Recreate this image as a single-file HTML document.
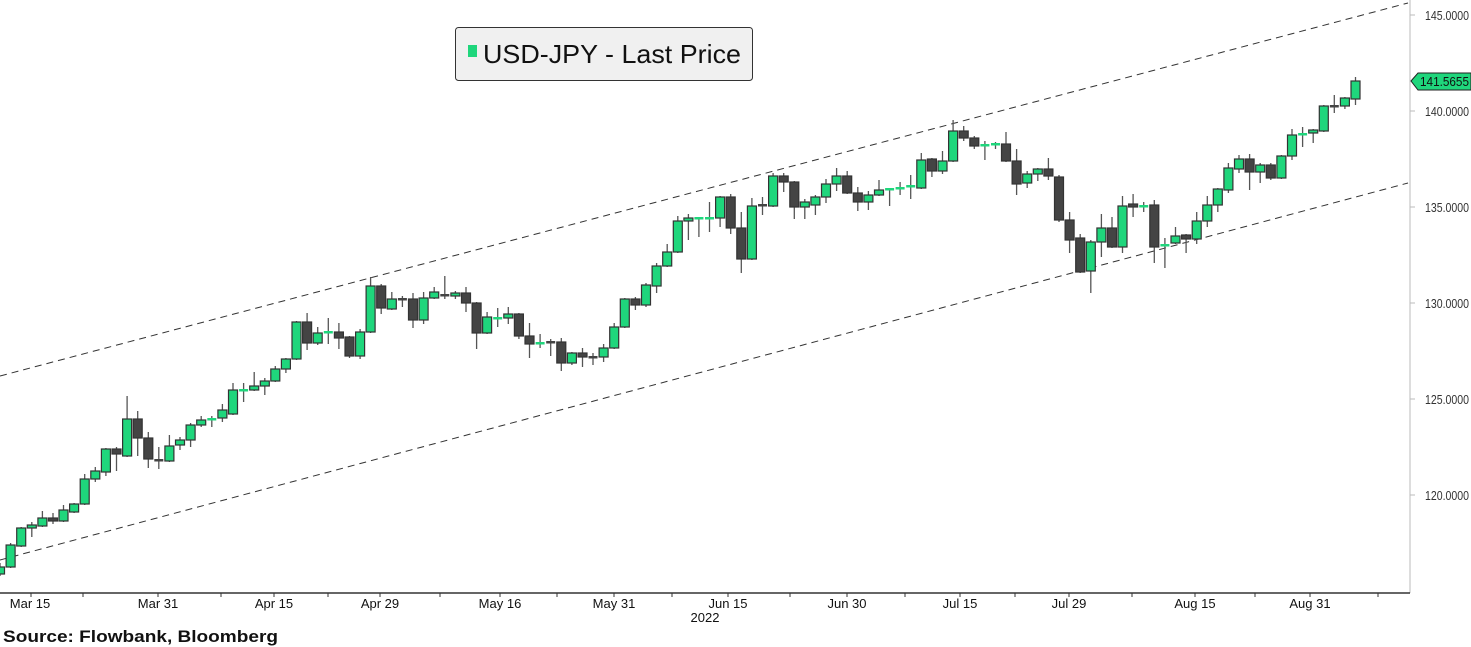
<!DOCTYPE html>
<html><head><meta charset="utf-8"><style>
html,body{margin:0;padding:0;background:#fff;}
svg{display:block;font-family:"Liberation Sans","DejaVu Sans",sans-serif;}
</style></head><body>
<svg id="s" width="1471" height="647" viewBox="0 0 1471 647" xmlns="http://www.w3.org/2000/svg">
<rect width="1471" height="647" fill="#fff"/>
<line x1="1410" y1="0" x2="1410" y2="593" stroke="#bbb" stroke-width="1"/>
<line x1="0" y1="593" x2="1410" y2="593" stroke="#333" stroke-width="1.5"/>
<line x1="0" y1="376" x2="1408" y2="3" stroke="#333" stroke-width="1" stroke-dasharray="7,5"/>
<line x1="0" y1="560" x2="1408" y2="183" stroke="#333" stroke-width="1" stroke-dasharray="7,5"/>
<g id="c"></g>
<g font-size="13" fill="#333">
<text x="1425" y="20" textLength="44" lengthAdjust="spacingAndGlyphs">145.0000</text>
<text x="1425" y="116" textLength="44" lengthAdjust="spacingAndGlyphs">140.0000</text>
<text x="1425" y="212" textLength="44" lengthAdjust="spacingAndGlyphs">135.0000</text>
<text x="1425" y="308" textLength="44" lengthAdjust="spacingAndGlyphs">130.0000</text>
<text x="1425" y="404" textLength="44" lengthAdjust="spacingAndGlyphs">125.0000</text>
<text x="1425" y="500" textLength="44" lengthAdjust="spacingAndGlyphs">120.0000</text>
</g>
<g stroke="#bbb"><line x1="1410" y1="15" x2="1415" y2="15"/><line x1="1410" y1="111" x2="1415" y2="111"/><line x1="1410" y1="207" x2="1415" y2="207"/><line x1="1410" y1="303" x2="1415" y2="303"/><line x1="1410" y1="399" x2="1415" y2="399"/><line x1="1410" y1="495" x2="1415" y2="495"/></g>
<polygon points="1411,81 1418,73 1471,73 1471,90 1418,90" fill="#1fd67c" stroke="#222" stroke-width="1"/>
<text x="1420" y="86" font-size="13" fill="#111" textLength="49" lengthAdjust="spacingAndGlyphs">141.5655</text>
<g font-size="13" fill="#111" text-anchor="middle">
<text x="30" y="608">Mar 15</text><text x="158" y="608">Mar 31</text><text x="274" y="608">Apr 15</text><text x="380" y="608">Apr 29</text>
<text x="500" y="608">May 16</text><text x="614" y="608">May 31</text><text x="728" y="608">Jun 15</text><text x="847" y="608">Jun 30</text>
<text x="960" y="608">Jul 15</text><text x="1069" y="608">Jul 29</text><text x="1195" y="608">Aug 15</text><text x="1310" y="608">Aug 31</text>
<text x="705" y="622">2022</text>
</g>
<g id="t" stroke="#333" stroke-width="1"></g>
<text x="3" y="642" font-size="17" font-weight="bold" fill="#111" textLength="275" lengthAdjust="spacingAndGlyphs">Source: Flowbank, Bloomberg</text>
<rect x="455.5" y="27.5" width="297" height="53" rx="3" fill="#f0f0f0" stroke="#333"/>
<rect x="468" y="45" width="9" height="12" fill="#1fd67c"/>
<text x="483" y="63" font-size="26" fill="#111" textLength="258" lengthAdjust="spacingAndGlyphs">USD-JPY - Last Price</text>
</svg>
<script>
var D=[
[567,574,563,576,1],[545,567,543,568,1],[528,546,527,547,1],[525,528,522,537,1],[518,526,511,527,1],[518,521,513,524,0],[510,521,505,522,1],[504,512,503,513,1],[479,504,474,505,1],[471,479,467,482,1],
[449,472,448,476,1],[449,454,447,471,0],[419,456,396,457,1],[419,438,411,456,0],[438,459,432,468,0],[459,461,447,469,0],[446,461,435,462,1],[440,445,437,450,1],[425,440,423,447,1],[420,425,416,427,1],
[418,420,416,427,1],[410,418,404,422,1],[390,414,383,415,1],[389,391,383,402,1],[386,390,372,391,1],[381,386,378,395,1],[369,381,366,382,1],[359,369,358,373,1],[322,359,321,360,1],[322,343,313,350,0],
[333,343,327,345,1],[331,333,318,344,1],[332,338,323,349,0],[337,356,336,358,0],[332,356,329,359,1],[286,332,277,333,1],[286,308,284,314,0],[299,309,292,310,1],[298,300,296,307,0],[299,320,293,328,0],
[298,320,292,324,1],[292,298,287,299,1],[294,296,276,299,0],[293,296,291,299,1],[293,303,287,312,0],[303,333,302,349,0],[317,333,312,334,1],[317,319,308,327,1],[314,318,307,324,1],[314,336,313,339,0],
[336,344,323,358,0],[342,344,334,348,1],[341,343,339,356,0],[342,363,338,371,0],[353,363,352,365,1],[353,357,348,367,0],[356,358,353,365,0],[348,357,344,362,1],[327,348,323,349,1],[299,327,298,328,1],
[299,305,297,310,0],[285,305,283,307,1],[266,286,263,293,1],[252,266,244,267,1],[221,252,216,253,1],[218,221,214,240,1],[217,219,217,237,1],[217,219,202,232,1],[197,218,196,227,1],[197,228,194,234,0],
[228,259,212,273,0],[206,259,198,260,1],[204,206,197,215,0],[176,206,173,207,1],[176,182,173,192,0],[182,207,181,219,0],[202,207,199,219,1],[197,205,195,215,1],[184,197,179,203,1],[176,184,168,191,1],
[176,193,171,194,0],[193,202,187,211,0],[195,202,191,210,1],[190,195,180,196,1],[188,190,188,206,1],[187,189,182,195,1],[185,187,175,199,1],[160,188,153,189,1],[159,171,158,177,0],[161,171,151,174,1],
[131,161,120,162,1],[131,138,126,141,0],[138,146,136,149,0],[144,146,141,160,1],[143,145,142,149,1],[144,161,132,162,0],[161,184,149,195,0],[174,183,171,188,1],[169,174,168,181,1],[169,176,158,180,0],
[177,220,175,222,0],[220,240,212,253,0],[238,272,234,273,0],[242,271,240,293,1],[228,242,214,257,1],[228,247,217,248,0],[206,247,196,253,1],[204,207,194,217,0],[205,207,202,212,1],[205,247,200,263,0],
[244,246,238,268,1],[236,243,227,244,1],[235,239,234,253,0],[221,239,212,244,1],[205,221,196,227,1],[189,205,188,212,1],[168,190,163,193,1],[159,169,155,173,1],[159,172,154,190,0],[165,172,163,183,1],
[165,178,163,180,0],[156,178,155,179,1],[135,156,129,160,1],[133,135,127,147,1],[130,133,129,143,1],[106,131,105,132,1],[105,107,95,113,0],[98,106,97,109,1],[81,99,77,105,1]];
var g=document.getElementById('c'),h='';
for(var i=0;i<D.length;i++){var d=D[i],x=(i*10.59).toFixed(1),hw=4.5;
var col=d[4]?'#1fd67c':'#444';var t=d[0],b=d[1];if(b-t<2){b=t+2;}
h+='<line x1="'+x+'" y1="'+d[2]+'" x2="'+x+'" y2="'+d[3]+'" stroke="#555" stroke-width="1.3"/>';
if(d[1]-d[0]<=2){h+='<rect x="'+(x-hw)+'" y="'+t+'" width="9" height="2.5" fill="'+col+'"/>';}
else h+='<rect x="'+(x-hw)+'" y="'+t+'" width="9" height="'+(b-t)+'" fill="'+col+'" stroke="#333" stroke-width="1.2"/>';}
g.innerHTML=h;
var tk=[31,83,158,221,274,328,380,440,500,557,614,672,728,790,847,905,960,1015,1069,1132,1195,1255,1310,1378],th='';
for(var j=0;j<tk.length;j++)th+='<line x1="'+tk[j]+'" y1="593" x2="'+tk[j]+'" y2="597"/>';
document.getElementById('t').innerHTML=th;
</script>
</body></html>
